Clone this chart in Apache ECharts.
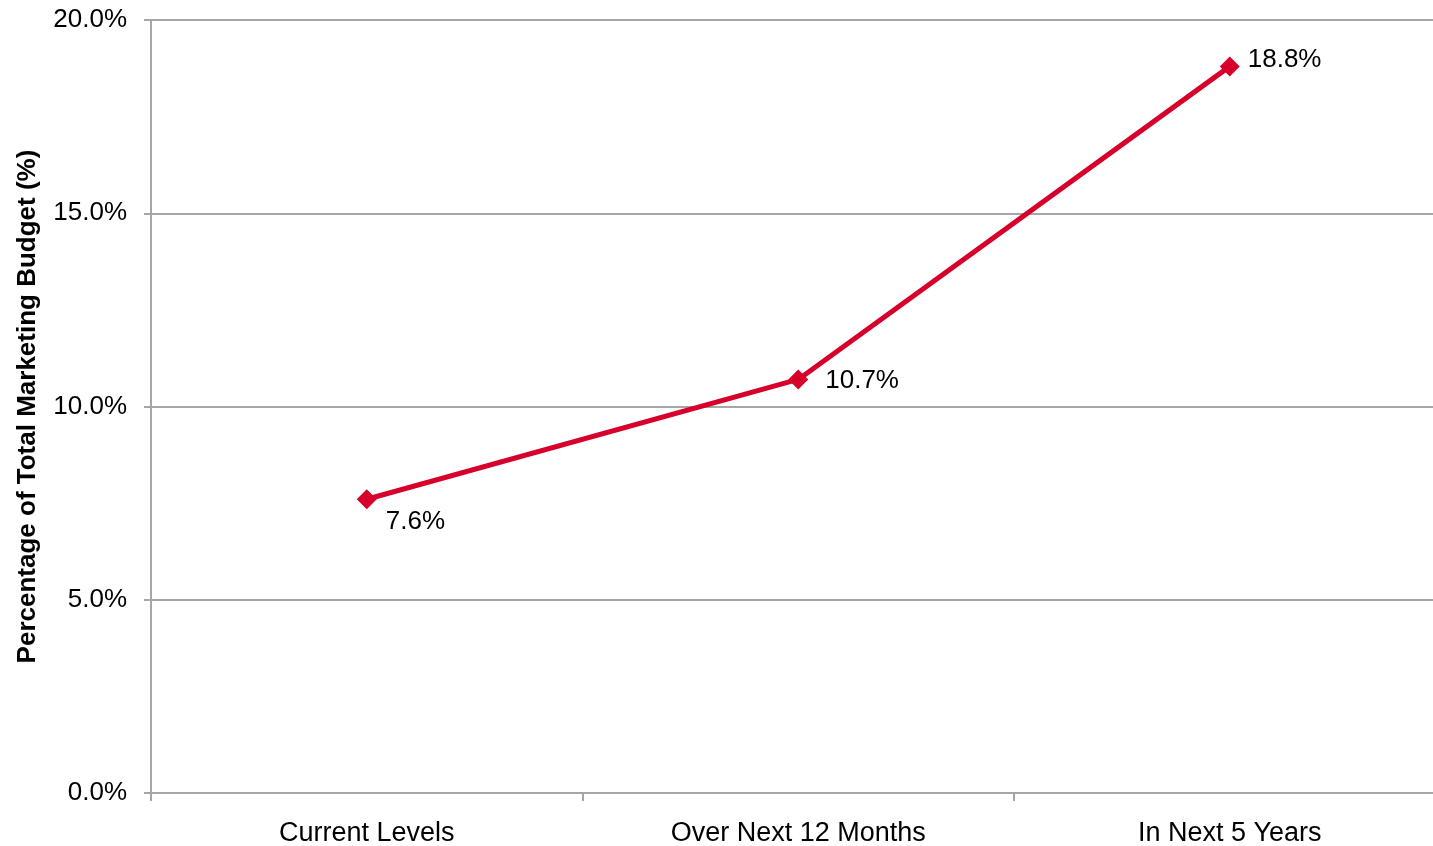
<!DOCTYPE html>
<html>
<head>
<meta charset="utf-8">
<script src="https://cdn.jsdelivr.net/npm/echarts@6/dist/echarts.min.js"></script>
<style>
  html, body { margin: 0; padding: 0; background: #ffffff; }
  #chart { width: 1433px; height: 846px; }
</style>
</head>
<body>
<div id="chart"></div>
<script>
// Share of total marketing budget, now and projected
const categories = ['Current Levels', 'Over Next 12 Months', 'In Next 5 Years'];
const budgetShare = [7.6, 10.7, 18.8];
const yTicks = { min: 0, max: 20, interval: 5 };
const yAxisTitle = 'Percentage of Total Marketing Budget (%)';

// Per-point label placement (relative to the marker box)
const labelPlacement = [[29, 33], [37, 11], [28, 3]];

const sans = "'Liberation Sans', Arial, sans-serif";
const gridGray = '#a6a6a6';
const lineRed = '#d6002a';

const chart = echarts.init(document.getElementById('chart'), null, { renderer: 'canvas' });

chart.setOption({
  animation: false,
  backgroundColor: '#ffffff',
  grid: {
    left: 151, top: 20, bottom: 53, right: -12.5,
    containLabel: false,
    outerBoundsMode: 'none'
  },
  xAxis: {
    type: 'category',
    data: categories,
    boundaryGap: true,
    axisLine: { show: true, lineStyle: { color: gridGray, width: 2 } },
    axisTick: { show: true, length: 8, lineStyle: { color: gridGray, width: 2 } },
    axisLabel: { color: '#000', fontFamily: sans, fontSize: 27, margin: 27 },
    splitLine: { show: false }
  },
  yAxis: {
    type: 'value',
    min: yTicks.min,
    max: yTicks.max,
    interval: yTicks.interval,
    name: yAxisTitle,
    nameLocation: 'middle',
    nameGap: 110,
    nameRotate: 90,
    nameTextStyle: { color: '#000', fontFamily: sans, fontWeight: 'bold', fontSize: 26 },
    axisLine: { show: true, lineStyle: { color: gridGray, width: 2 } },
    axisTick: { show: true, length: 7, lineStyle: { color: gridGray, width: 2 } },
    axisLabel: {
      color: '#000', fontFamily: sans, fontSize: 26, margin: 24,
      padding: [3, 0, 0, 0],
      formatter: v => v.toFixed(1) + '%'
    },
    splitLine: { show: true, lineStyle: { color: gridGray, width: 2 } }
  },
  series: [{
    type: 'line',
    data: budgetShare.map((v, i) => ({
      value: v,
      label: { position: labelPlacement[i] }
    })),
    symbol: 'diamond',
    symbolSize: 20,
    lineStyle: { color: lineRed, width: 5 },
    itemStyle: { color: lineRed },
    label: {
      show: true,
      color: '#000',
      fontFamily: sans,
      fontSize: 26,
      align: 'left',
      verticalAlign: 'middle',
      formatter: p => p.value.toFixed(1) + '%'
    }
  }]
});
</script>
</body>
</html>
